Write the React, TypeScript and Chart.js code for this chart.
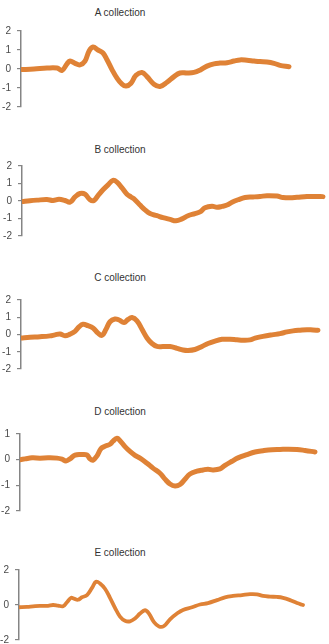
import React, { useEffect, useRef } from "react";
import { Chart, registerables } from "chart.js";

Chart.register(...registerables);

const titles = ["A collection", "B collection", "C collection", "D collection", "E collection"];

const aX = [0,13,26,36,41,46,49,54,59,64,68,72,77,82,86,91,96,101,105,110,115,121,126,133,139,146,153,159,166,173,179,186,193,199,206,213,219,226,233,239,246,253,259,268];
const aY = [-0.03,0,0.05,0.05,-0.07,0.27,0.42,0.3,0.22,0.42,0.94,1.16,1.0,0.84,0.49,-0.03,-0.48,-0.8,-0.9,-0.75,-0.33,-0.18,-0.4,-0.8,-0.92,-0.7,-0.4,-0.21,-0.21,-0.18,-0.06,0.15,0.27,0.31,0.33,0.42,0.48,0.46,0.42,0.39,0.37,0.3,0.19,0.12];

const bX = [0,8,15,25,31,37,43,48,53,58,63,68,72,76,81,86,91,95,100,105,109,113,118,123,128,135,141,148,154,160,166,173,178,183,190,195,200,205,210,216,223,231,238,245,255,261,268,275,285,293,301];
const bY = [-0.03,0.02,0.05,0.08,0.03,0.1,0.03,-0.07,0.23,0.43,0.39,0.07,0.03,0.31,0.64,0.92,1.18,1.08,0.75,0.39,0.23,0.07,-0.23,-0.51,-0.72,-0.84,-0.95,-1.05,-1.13,-1.02,-0.84,-0.72,-0.62,-0.39,-0.3,-0.36,-0.31,-0.23,-0.07,0.07,0.2,0.23,0.26,0.3,0.28,0.2,0.18,0.21,0.26,0.26,0.25];

const cX = [0,9,19,29,34,39,44,49,54,58,62,67,72,77,81,85,89,94,98,103,107,111,116,121,126,131,136,142,149,156,162,167,174,181,187,194,201,209,216,222,229,234,242,251,259,266,272,279,286,292,297];
const cY = [-0.2,-0.16,-0.13,-0.08,-0.02,0.03,-0.07,0.02,0.18,0.44,0.59,0.51,0.38,0.08,-0.05,0.3,0.74,0.9,0.84,0.7,0.87,0.98,0.79,0.3,-0.2,-0.52,-0.69,-0.7,-0.7,-0.8,-0.9,-0.93,-0.87,-0.69,-0.52,-0.38,-0.28,-0.28,-0.31,-0.33,-0.31,-0.21,-0.11,-0.02,0.05,0.15,0.21,0.25,0.28,0.26,0.25];

const dX = [0,5,12,20,28,37,42,46,50,55,62,67,70,73,77,81,85,90,93,97,100,105,110,115,120,127,133,140,145,150,155,160,165,170,177,183,188,193,200,205,212,218,227,235,243,252,260,268,277,285,295];
const dY = [0,0.03,0.07,0.06,0.07,0.06,0.02,-0.05,0.03,0.18,0.2,0.18,0.03,-0.02,0.15,0.43,0.52,0.6,0.72,0.83,0.74,0.51,0.32,0.17,0.06,-0.14,-0.33,-0.53,-0.76,-0.95,-1.03,-0.97,-0.76,-0.56,-0.45,-0.4,-0.37,-0.4,-0.36,-0.22,-0.06,0.07,0.2,0.3,0.35,0.39,0.4,0.41,0.4,0.36,0.3];

const eX = [0,8,14,21,29,34,39,44,48,52,55,59,63,68,73,77,81,86,91,96,101,106,111,116,121,126,130,135,140,145,151,158,164,173,181,189,198,206,214,223,231,238,244,251,258,264,271,278,284];
const eY = [-0.13,-0.11,-0.08,-0.05,-0.05,0,-0.03,-0.07,0.16,0.41,0.36,0.3,0.44,0.57,0.98,1.33,1.23,0.93,0.41,-0.16,-0.66,-0.9,-0.93,-0.77,-0.49,-0.3,-0.49,-0.98,-1.23,-1.2,-0.82,-0.49,-0.28,-0.13,0.03,0.11,0.28,0.44,0.52,0.57,0.62,0.61,0.52,0.48,0.46,0.41,0.28,0.11,0];

const yMins = [-2, -2, -2, -2, -2];
const yMaxs = [2, 2, 2, 1, 2];
const ySteps = [1, 1, 1, 1, 2];

const seriesX = [aX, bX, cX, dX, eX];
const seriesY = [aY, bY, cY, dY, eY];

// layout (pixels)
const axisLeft = [21, 22, 21, 20, 19];
const canvasTop = [19, 154, 288, 422, 558];
const canvasH = [100, 94, 93, 101, 94];
const titleCenterY = [13, 150, 278, 412, 553];
const lineWidths = [5, 5, 5, 5, 3.8];

const W = 329;
const ORANGE = "#DF8236";
const AXIS = "#858585";

function Panel({ i }: { i: number }) {
  const ref = useRef<HTMLCanvasElement | null>(null);
  useEffect(() => {
    if (!ref.current) return;
    const xs = seriesX[i];
    const ys = seriesY[i];
    const chart = new Chart(ref.current, {
      type: "line",
      data: {
        datasets: [
          {
            data: xs.map((x, k) => ({ x, y: ys[k] })),
            borderColor: ORANGE,
            borderWidth: lineWidths[i],
            pointRadius: 0,
            tension: 0.4,
            fill: false,
            borderCapStyle: "round",
            borderJoinStyle: "round",
          },
        ],
      },
      options: {
        responsive: false,
        animation: false,
        layout: { padding: { top: 6, bottom: 6, left: 0, right: 0 } },
        plugins: {
          legend: { display: false },
          title: { display: false },
          tooltip: { enabled: false },
        },
        scales: {
          x: { type: "linear", display: false, min: 0, max: W - axisLeft[i] },
          y: {
            min: yMins[i],
            max: yMaxs[i],
            ticks: {
              stepSize: ySteps[i],
              color: "#4a4a4a",
              font: { family: "'Liberation Sans', Arial, sans-serif", size: 10 },
              padding: 6,
            },
            grid: {
              drawOnChartArea: false,
              drawTicks: true,
              tickLength: 4,
              color: AXIS,
              lineWidth: 1.2,
            },
            border: { display: true, color: AXIS, width: 1.5 },
            afterFit: (s: any) => {
              s.width = axisLeft[i];
            },
          },
        },
      } as any,
    });
    return () => chart.destroy();
  }, [i]);
  return (
    <>
      <div
        style={{
          position: "absolute",
          left: 0,
          width: 240,
          top: titleCenterY[i] - 6,
          height: 12,
          lineHeight: "12px",
          textAlign: "center",
          fontFamily: "'Liberation Sans', Arial, sans-serif",
          fontSize: 10,
          color: "#333",
        }}
      >
        {titles[i]}
      </div>
      <canvas
        ref={ref}
        width={W}
        height={canvasH[i]}
        style={{ position: "absolute", left: 0, top: canvasTop[i], width: W, height: canvasH[i] }}
      />
    </>
  );
}

export default function App() {
  return (
    <div
      style={{
        position: "fixed",
        left: 0,
        top: 0,
        width: W,
        height: 644,
        overflow: "hidden",
        background: "#fff",
      }}
    >
      {titles.map((_, i) => (
        <Panel key={i} i={i} />
      ))}
    </div>
  );
}
